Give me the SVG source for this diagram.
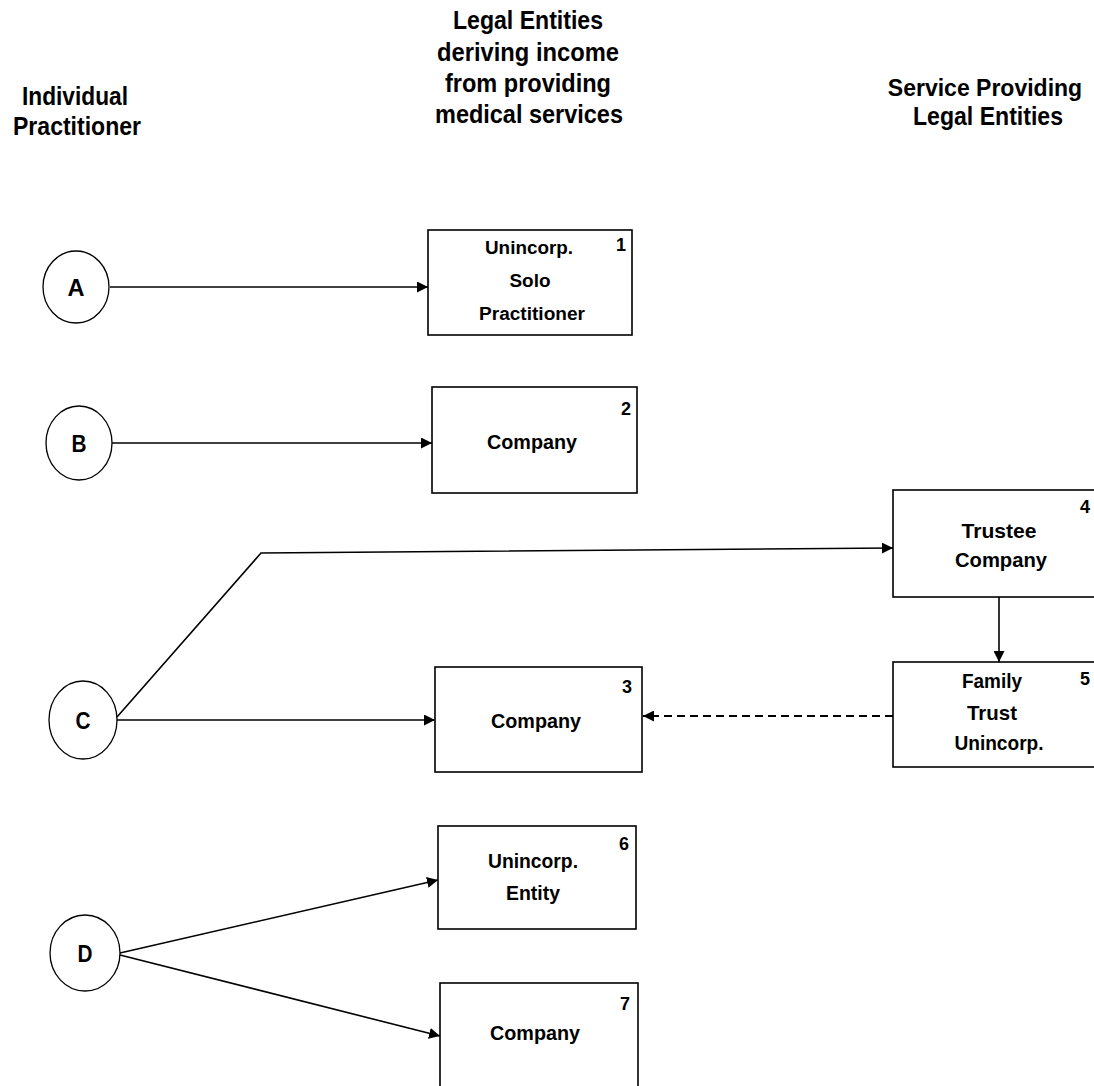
<svg xmlns="http://www.w3.org/2000/svg" width="1094" height="1086" viewBox="0 0 1094 1086">
<style>
  text { font-family: "Liberation Sans", Arial, sans-serif; font-weight: bold; fill: #000; }
  .hdr { font-size: 25px; text-anchor: middle; }
  .lbl { font-size: 21px; text-anchor: middle; }
  .sm { font-size: 18px; }
  .num { font-size: 18px; text-anchor: middle; }
  .circ { font-size: 24px; text-anchor: middle; }
  .box { fill: #fff; stroke: #000; stroke-width: 1.6; }
  .node ellipse { fill: #fff; stroke: #000; stroke-width: 1.3; }
  .conn { fill: none; stroke: #000; stroke-width: 1.6; }
  .dash { stroke-dasharray: 8 5; stroke-width: 2; }
</style>
<defs>
  <marker id="arr" viewBox="0 0 10 10" refX="10" refY="5" markerWidth="11" markerHeight="11" markerUnits="userSpaceOnUse" orient="auto">
    <path d="M0,0 L10,5 L0,10 z" fill="#000"/>
  </marker>
</defs>
<rect width="1094" height="1086" fill="#fff"/>

<g id="headers">
  <text class="hdr" x="75" y="105" textLength="106" lengthAdjust="spacingAndGlyphs">Individual</text>
  <text class="hdr" x="77" y="135" textLength="128" lengthAdjust="spacingAndGlyphs">Practitioner</text>
  <text class="hdr" x="528" y="29" textLength="150" lengthAdjust="spacingAndGlyphs">Legal Entities</text>
  <text class="hdr" x="528" y="61" textLength="182" lengthAdjust="spacingAndGlyphs">deriving income</text>
  <text class="hdr" x="528" y="92" textLength="166" lengthAdjust="spacingAndGlyphs">from providing</text>
  <text class="hdr" x="529" y="123" textLength="188" lengthAdjust="spacingAndGlyphs">medical services</text>
  <text class="hdr" x="985" y="96" style="font-size:23px">Service Providing</text>
  <text class="hdr" x="988" y="125" textLength="150" lengthAdjust="spacingAndGlyphs">Legal Entities</text>
</g>

<g id="connectors">
  <line class="conn" x1="110" y1="287" x2="428" y2="287" marker-end="url(#arr)"/>
  <line class="conn" x1="112" y1="443" x2="432" y2="443" marker-end="url(#arr)"/>
  <polyline class="conn" points="117,717 261,553 893,548" marker-end="url(#arr)"/>
  <line class="conn" x1="117" y1="720" x2="435" y2="720" marker-end="url(#arr)"/>
  <line class="conn" x1="999" y1="597" x2="999" y2="662" marker-end="url(#arr)"/>
  <line class="conn dash" x1="893" y1="716" x2="643" y2="716" marker-end="url(#arr)"/>
  <line class="conn" x1="120" y1="953" x2="438" y2="880" marker-end="url(#arr)"/>
  <line class="conn" x1="120" y1="955" x2="440" y2="1036" marker-end="url(#arr)"/>
</g>

<g id="nodeA" class="node">
  <ellipse cx="76" cy="287" rx="33" ry="36"/>
  <text class="circ" x="76" y="296" textLength="17" lengthAdjust="spacingAndGlyphs">A</text>
</g>
<g id="nodeB" class="node">
  <ellipse cx="79" cy="443" rx="33" ry="37"/>
  <text class="circ" x="79" y="452" textLength="15" lengthAdjust="spacingAndGlyphs">B</text>
</g>
<g id="nodeC" class="node">
  <ellipse cx="83" cy="720" rx="34" ry="39"/>
  <text class="circ" x="83" y="729" textLength="15" lengthAdjust="spacingAndGlyphs">C</text>
</g>
<g id="nodeD" class="node">
  <ellipse cx="85" cy="953" rx="35" ry="38"/>
  <text class="circ" x="85" y="962" textLength="15" lengthAdjust="spacingAndGlyphs">D</text>
</g>

<g id="box1">
  <rect class="box" x="428" y="230" width="204" height="105"/>
  <text class="lbl sm" x="529" y="254" textLength="88" lengthAdjust="spacingAndGlyphs">Unincorp.</text>
  <text class="lbl sm" x="530" y="287" textLength="41" lengthAdjust="spacingAndGlyphs">Solo</text>
  <text class="lbl sm" x="532" y="320" textLength="106" lengthAdjust="spacingAndGlyphs">Practitioner</text>
  <text class="num" x="621" y="251">1</text>
</g>
<g id="box2">
  <rect class="box" x="432" y="387" width="205" height="106"/>
  <text class="lbl" x="532" y="449" textLength="90" lengthAdjust="spacingAndGlyphs">Company</text>
  <text class="num" x="626" y="415">2</text>
</g>
<g id="box3">
  <rect class="box" x="435" y="667" width="207" height="105"/>
  <text class="lbl" x="536" y="728" textLength="90" lengthAdjust="spacingAndGlyphs">Company</text>
  <text class="num" x="627" y="693">3</text>
</g>
<g id="box4">
  <rect class="box" x="893" y="490" width="205" height="107"/>
  <text class="lbl" x="999" y="538" textLength="75" lengthAdjust="spacingAndGlyphs">Trustee</text>
  <text class="lbl" x="1001" y="567" textLength="92" lengthAdjust="spacingAndGlyphs">Company</text>
  <text class="num" x="1085" y="513">4</text>
</g>
<g id="box5">
  <rect class="box" x="893" y="662" width="205" height="105"/>
  <text class="lbl" x="992" y="688" textLength="60" lengthAdjust="spacingAndGlyphs">Family</text>
  <text class="lbl" x="992" y="720" textLength="50" lengthAdjust="spacingAndGlyphs">Trust</text>
  <text class="lbl" x="999" y="750" textLength="89" lengthAdjust="spacingAndGlyphs">Unincorp.</text>
  <text class="num" x="1085" y="685">5</text>
</g>
<g id="box6">
  <rect class="box" x="438" y="826" width="198" height="103"/>
  <text class="lbl" x="533" y="868" textLength="90" lengthAdjust="spacingAndGlyphs">Unincorp.</text>
  <text class="lbl" x="533" y="900" textLength="54" lengthAdjust="spacingAndGlyphs">Entity</text>
  <text class="num" x="624" y="850">6</text>
</g>
<g id="box7">
  <rect class="box" x="440" y="983" width="198" height="110"/>
  <text class="lbl" x="535" y="1040" textLength="90" lengthAdjust="spacingAndGlyphs">Company</text>
  <text class="num" x="625" y="1010">7</text>
</g>
</svg>
